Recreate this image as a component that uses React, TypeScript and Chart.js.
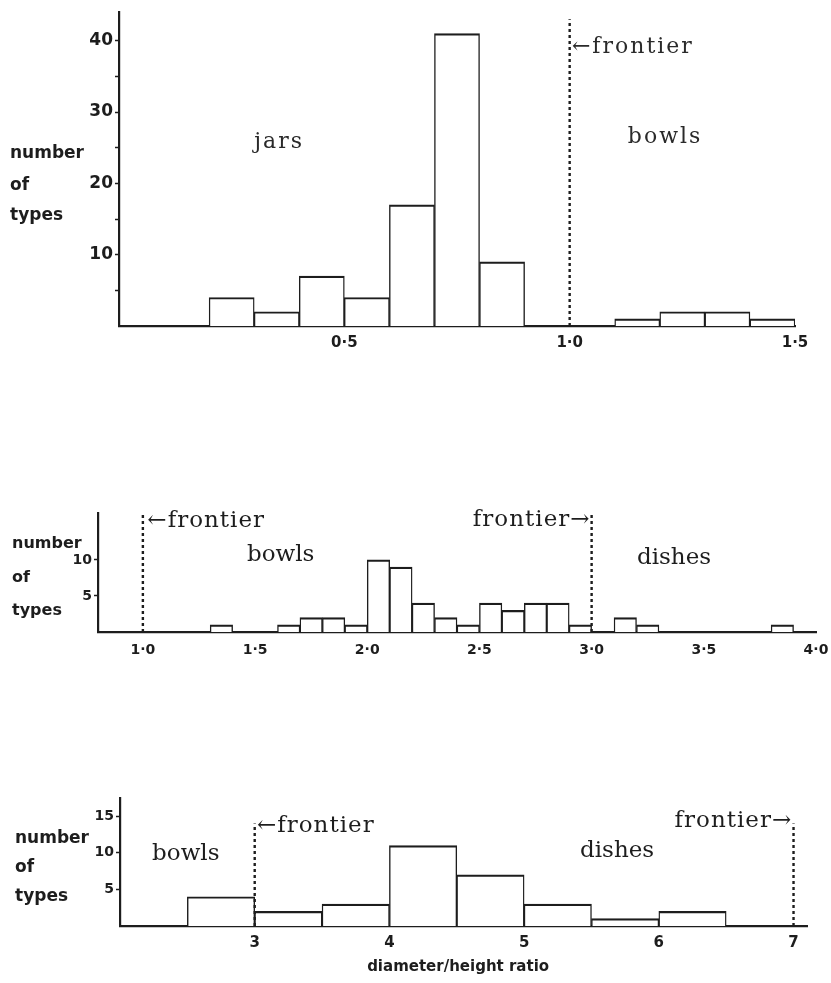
import React, { useEffect, useRef } from "react";
import { Chart, registerables } from "chart.js";

Chart.register(...registerables);

// ---------------- data ----------------
// Top panel: jars / bowls (ratio 0 – 1.5), bins of 0.1
const topBinCenters = [0.25, 0.35, 0.45, 0.55, 0.65, 0.75, 0.85, 1.15, 1.25, 1.35, 1.45];
const topCounts = [4, 2, 7, 4, 17, 41, 9, 1, 2, 2, 1];
const topXTicks = [0.5, 1.0, 1.5];
const topYTicks = [5, 10, 15, 20, 25, 30, 35, 40];
const topYLabelled = [10, 20, 30, 40];
const topFrontiers = [1.0];

// Middle panel: bowls / dishes (ratio 0.8 – 4.0), bins of 0.1
const midBinCenters = [1.35, 1.65, 1.75, 1.85, 1.95, 2.05, 2.15, 2.25, 2.35, 2.45, 2.55, 2.65, 2.75, 2.85, 2.95, 3.15, 3.25, 3.85];
const midCounts = [1, 1, 2, 2, 1, 10, 9, 4, 2, 1, 4, 3, 4, 4, 1, 2, 1, 1];
const midXTicks = [1.0, 1.5, 2.0, 2.5, 3.0, 3.5, 4.0];
const midYTicks = [5, 10];
const midYLabelled = [5, 10];
const midFrontiers = [1.0, 3.0];

// Bottom panel: bowls / dishes (ratio 2 – 7), bins of 0.5
const botBinCenters = [2.75, 3.25, 3.75, 4.25, 4.75, 5.25, 5.75, 6.25];
const botCounts = [4, 2, 3, 11, 7, 3, 1, 2];
const botXTicks = [3, 4, 5, 6, 7];
const botYTicks = [5, 10, 15];
const botYLabelled = [5, 10, 15];
const botFrontiers = [3, 7];

// ---------------- styling ----------------
const INK = "#1d1d1d";
const SANS = "'DejaVu Sans', sans-serif";
const SERIF = "'DejaVu Serif', serif";

const dotFmt = (v: number) => v.toFixed(1).replace(".", "\u00B7");
const intFmt = (v: number) => String(v);

type Annot = {
  text: string;
  x?: number; // data x
  px?: number; // canvas x
  y?: number; // data y
  below?: number; // px below chart area bottom
  align?: CanvasTextAlign;
  font: string;
  spacing?: string;
  color?: string;
};

const annotPlugin = {
  id: "annot",
  afterDraw(chart: any, _args: any, opts: any) {
    const { ctx, scales, chartArea } = chart;
    ctx.save();
    for (const a of (opts.items || []) as Annot[]) {
      ctx.font = a.font;
      ctx.fillStyle = a.color || INK;
      ctx.textAlign = a.align || "left";
      ctx.textBaseline = "alphabetic";
      (ctx as any).letterSpacing = a.spacing || "0px";
      const px = a.px !== undefined ? a.px : scales.x.getPixelForValue(a.x);
      const py = a.below !== undefined ? chartArea.bottom + a.below : scales.y.getPixelForValue(a.y);
      ctx.fillText(a.text, px, py);
    }
    ctx.restore();
  },
};

type Spec = {
  centers: number[];
  counts: number[];
  xMin: number;
  xMax: number;
  yMax: number;
  xTicks: number[];
  yTicks: number[];
  yLabelled: number[];
  xFmt: (v: number) => string;
  frontiers: number[];
  frontierTop: number;
  padding: { left: number; right: number; top: number };
  yWidth: number;
  xHeight: number;
  xFont: number;
  yFont: number;
  xPad: number;
  annots: Annot[];
};

function makeConfig(s: Spec): any {
  const datasets: any[] = [
    {
      type: "bar",
      data: s.centers.map((c, i) => ({ x: c, y: s.counts[i] })),
      backgroundColor: "#ffffff",
      borderColor: INK,
      borderWidth: { top: 2.2, left: 1.4, right: 1.4, bottom: 0 },
      borderSkipped: false,
      barPercentage: 1,
      categoryPercentage: 1,
      order: 2,
    },
    ...s.frontiers.map((f) => ({
      type: "line",
      data: [
        { x: f, y: 0 },
        { x: f, y: s.frontierTop },
      ],
      borderColor: INK,
      borderWidth: 2.4,
      borderDash: [3, 3],
      pointRadius: 0,
      fill: false,
      order: 1,
    })),
  ];
  return {
    type: "bar",
    data: { datasets },
    options: {
      animation: false,
      responsive: false,
      maintainAspectRatio: false,
      events: [],
      layout: { padding: { left: s.padding.left, right: s.padding.right, top: s.padding.top, bottom: 0 } },
      plugins: {
        legend: { display: false },
        tooltip: { enabled: false },
        annot: { items: s.annots },
      },
      scales: {
        x: {
          type: "linear",
          min: s.xMin,
          max: s.xMax,
          offset: false,
          grid: { display: false, drawOnChartArea: false, drawTicks: false },
          border: { display: true, color: INK, width: 2.2 },
          ticks: {
            autoSkip: false,
            maxRotation: 0,
            padding: s.xPad,
            color: INK,
            font: { family: SANS, size: s.xFont, weight: "bold" },
            callback: (v: number) => s.xFmt(v),
          },
          afterBuildTicks: (sc: any) => {
            sc.ticks = s.xTicks.map((v) => ({ value: v }));
          },
          afterFit: (sc: any) => {
            sc.height = s.xHeight;
            sc.paddingLeft = 0;
            sc.paddingRight = 0;
          },
        },
        y: {
          min: 0,
          max: s.yMax,
          grid: {
            display: true,
            drawOnChartArea: false,
            drawTicks: true,
            tickLength: 4,
            tickColor: INK,
            tickWidth: 1.5,
          },
          border: { display: true, color: INK, width: 2.2 },
          ticks: {
            autoSkip: false,
            padding: 2,
            color: INK,
            font: { family: SANS, size: s.yFont, weight: "bold" },
            callback: (v: number) => (s.yLabelled.includes(v) ? String(v) : ""),
          },
          afterBuildTicks: (sc: any) => {
            sc.ticks = s.yTicks.map((v) => ({ value: v }));
          },
          afterFit: (sc: any) => {
            sc.width = s.yWidth;
          },
        },
      },
    },
    plugins: [annotPlugin],
  };
}

const topSpec: Spec = {
  centers: topBinCenters,
  counts: topCounts,
  xMin: 0,
  xMax: 1.5,
  yMax: 44,
  xTicks: topXTicks,
  yTicks: topYTicks,
  yLabelled: topYLabelled,
  xFmt: dotFmt,
  frontiers: topFrontiers,
  frontierTop: 43,
  padding: { left: 89, right: 36, top: 12 },
  yWidth: 30,
  xHeight: 34,
  xFont: 15,
  yFont: 17,
  xPad: 8,
  annots: [
    { text: "jars", x: 0.3, y: 25, font: `22px ${SERIF}`, spacing: "2px", color: "#2a2a2a" },
    { text: "bowls", x: 1.129, y: 25.6, font: `22px ${SERIF}`, spacing: "2px", color: "#2a2a2a" },
    { text: "\u2190frontier", x: 1.005, y: 38.3, font: `22px ${SERIF}`, spacing: "2px", color: "#2a2a2a" },
    { text: "number", px: 10, y: 23.5, font: `bold 17px ${SANS}` },
    { text: "of", px: 10, y: 19.1, font: `bold 17px ${SANS}` },
    { text: "types", px: 10, y: 14.9, font: `bold 17px ${SANS}` },
  ],
};

const midSpec: Spec = {
  centers: midBinCenters,
  counts: midCounts,
  xMin: 0.8,
  xMax: 4.0,
  yMax: 16.5,
  xTicks: midXTicks,
  yTicks: midYTicks,
  yLabelled: midYLabelled,
  xFmt: dotFmt,
  frontiers: midFrontiers,
  frontierTop: 16.5,
  padding: { left: 74, right: 15, top: 23 },
  yWidth: 24,
  xHeight: 38,
  xFont: 14,
  yFont: 14,
  xPad: 10,
  annots: [
    { text: "\u2190frontier", x: 1.02, y: 14.56, font: `23px ${SERIF}`, spacing: "1px" },
    { text: "bowls", x: 1.464, y: 9.84, font: `23px ${SERIF}` },
    { text: "frontier\u2192", x: 2.995, y: 14.7, align: "right", font: `23px ${SERIF}`, spacing: "1px" },
    { text: "dishes", x: 3.202, y: 9.43, font: `23px ${SERIF}` },
    { text: "number", px: 12, y: 11.65, font: `bold 16px ${SANS}` },
    { text: "of", px: 12, y: 6.93, font: `bold 16px ${SANS}` },
    { text: "types", px: 12, y: 2.36, font: `bold 16px ${SANS}` },
  ],
};

const botSpec: Spec = {
  centers: botBinCenters,
  counts: botCounts,
  xMin: 2,
  xMax: 7.1,
  yMax: 17.5,
  xTicks: botXTicks,
  yTicks: botYTicks,
  yLabelled: botYLabelled,
  xFmt: intFmt,
  frontiers: botFrontiers,
  frontierTop: 14,
  padding: { left: 90, right: 24, top: 18 },
  yWidth: 30,
  xHeight: 57,
  xFont: 15,
  yFont: 14,
  xPad: 8,
  annots: [
    { text: "\u2190frontier", x: 3.017, y: 12.85, font: `23px ${SERIF}`, spacing: "1px" },
    { text: "bowls", x: 2.238, y: 9.02, font: `23px ${SERIF}` },
    { text: "frontier\u2192", x: 6.99, y: 13.5, align: "right", font: `23px ${SERIF}`, spacing: "1px" },
    { text: "dishes", x: 5.415, y: 9.43, font: `23px ${SERIF}` },
    { text: "number", px: 15, y: 11.35, font: `bold 17px ${SANS}` },
    { text: "of", px: 15, y: 7.38, font: `bold 17px ${SANS}` },
    { text: "types", px: 15, y: 3.42, font: `bold 17px ${SANS}` },
    { text: "diameter/height ratio", x: 4.51, below: 45, align: "center", font: `bold 15px ${SANS}` },
  ],
};

function Panel({ spec, top, height }: { spec: Spec; top: number; height: number }) {
  const ref = useRef<HTMLCanvasElement | null>(null);
  useEffect(() => {
    if (!ref.current) return;
    const chart = new Chart(ref.current, makeConfig(spec));
    return () => chart.destroy();
  }, [spec]);
  return (
    <canvas
      ref={ref}
      width={831}
      height={height}
      style={{ position: "absolute", left: 0, top, width: 831, height, display: "block" }}
    />
  );
}

export default function App() {
  return (
    <div
      style={{
        position: "fixed",
        left: 0,
        top: 0,
        width: 831,
        height: 983,
        background: "#ffffff",
        overflow: "hidden",
      }}
    >
      <Panel spec={topSpec} top={0} height={360} />
      <Panel spec={midSpec} top={490} height={180} />
      <Panel spec={botSpec} top={780} height={203} />
    </div>
  );
}
